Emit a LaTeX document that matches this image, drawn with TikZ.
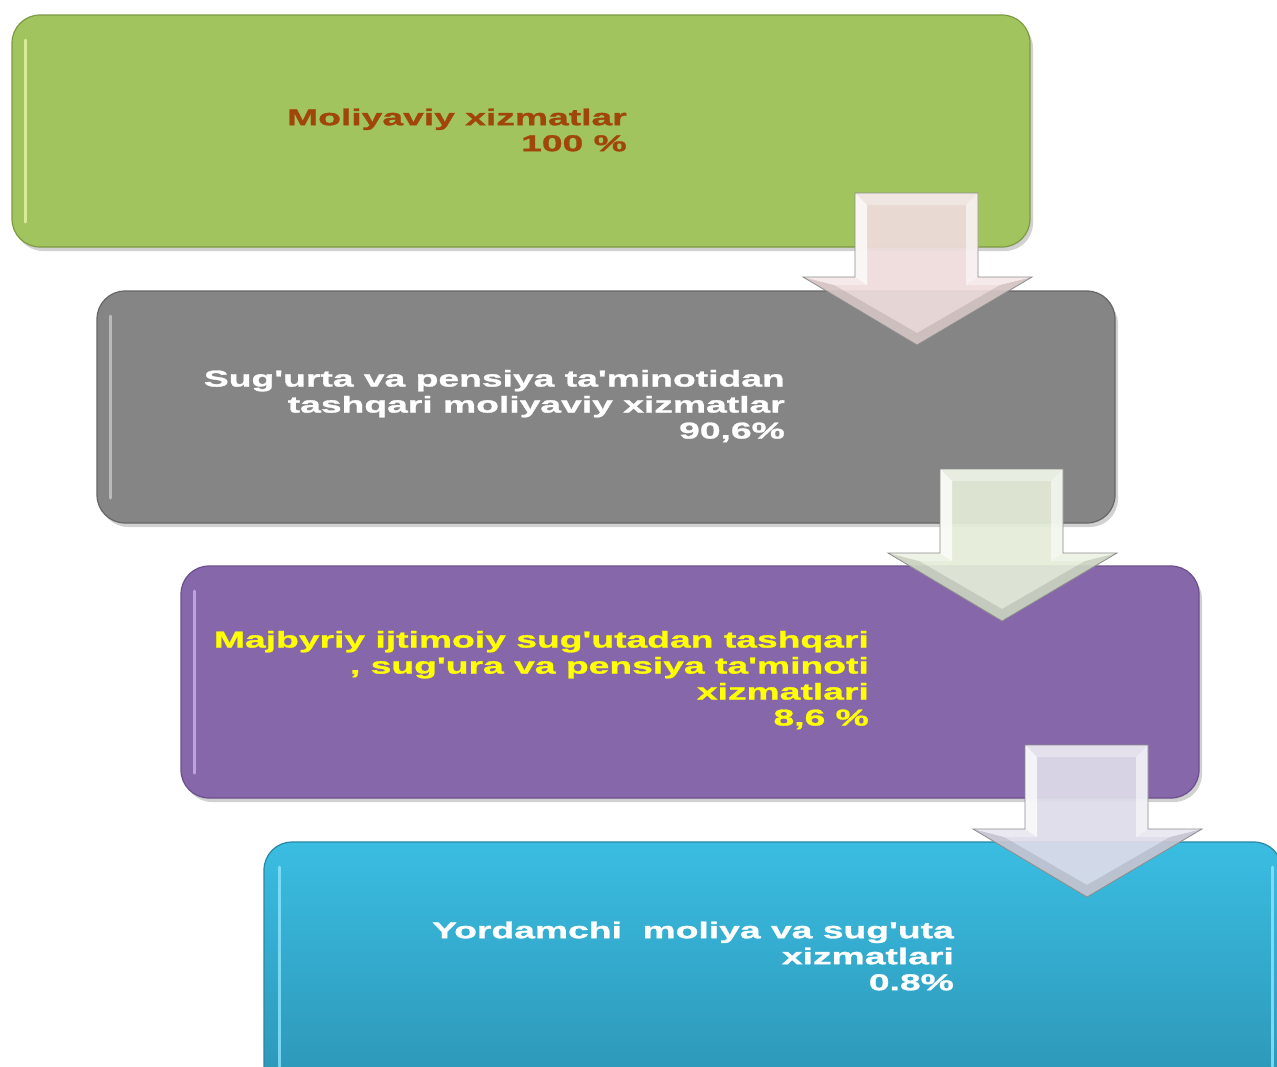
\documentclass[tikz,border=0pt]{standalone}
\usepackage{fontspec}
\newfontfamily\wfont[FakeStretch=1.62,FakeBold=1.2,Ligatures=TeXOff]{Liberation Sans Bold}
\definecolor{gfill}{HTML}{A2C45E}
\definecolor{gdark}{HTML}{7C9A42}
\definecolor{glite}{HTML}{E6F7A6}
\definecolor{kfill}{HTML}{858585}
\definecolor{kdark}{HTML}{666666}
\definecolor{klite}{HTML}{C8C8C8}
\definecolor{pfill}{HTML}{8668AA}
\definecolor{pdark}{HTML}{6A4F8C}
\definecolor{plite}{HTML}{C9B4E8}
\definecolor{btop}{HTML}{3ABDE2}
\definecolor{bbot}{HTML}{2C94B4}
\definecolor{bdark}{HTML}{2A86A4}
\definecolor{blite}{HTML}{8EE6FF}
\definecolor{brownt}{HTML}{A0460A}
\definecolor{ytext}{HTML}{FFFF00}
\definecolor{apink}{HTML}{EFDCDC}
\definecolor{agreen}{HTML}{E4EDD8}
\definecolor{alav}{HTML}{DEDCEA}
\newcommand\bevarrow[3]{%
  \begin{scope}[shift={(#1,#2)}]
    \fill[#3,opacity=0.92] (855,193) -- (978,193) -- (978,277) -- (1032,277) -- (917,345) -- (803,277) -- (855,277) -- cycle;
    \fill[white,opacity=0.75] (855,193) -- (867,205) -- (867,285) -- (855,277) -- cycle;
    \fill[white,opacity=0.55] (978,193) -- (966,205) -- (966,285) -- (978,277) -- cycle;
    \fill[white,opacity=0.35] (855,193) -- (978,193) -- (966,205) -- (867,205) -- cycle;
    \fill[black,opacity=0.10] (803,277) -- (917,345) -- (1032,277) -- (1000,285) -- (917,333) -- (834,285) -- cycle;
    \fill[white,opacity=0.35] (803,277) -- (855,277) -- (867,285) -- (834,285) -- cycle;
    \fill[white,opacity=0.35] (1032,277) -- (978,277) -- (966,285) -- (1000,285) -- cycle;
    \draw[black!45,line width=0.8pt] (855,193) -- (978,193) -- (978,277) -- (1032,277) -- (917,345) -- (803,277) -- (855,277) -- cycle;
  \end{scope}}
\tikzset{
  box/.style={rounded corners=28pt, line width=1.2pt, minimum width=1018pt, minimum height=232pt, inner sep=0pt},
  shadowbox/.style={fill=black, opacity=0.18, rounded corners=28pt},
  hilite/.style={line width=3pt, line cap=round, opacity=0.8},
  txt/.style={font=\wfont\fontsize{23}{26}\selectfont, align=right, anchor=east, inner sep=0pt}
}
\begin{document}
\begin{tikzpicture}[x=1pt,y=-1pt]
\useasboundingbox (0,0) rectangle (1277,1066);
\clip (0,0) rectangle (1277,1066);
\fill[white] (0,0) rectangle (1277,1066);
% box 1
\fill[shadowbox] (15,20) rectangle (1033,251);
\node[box, fill=gfill, draw=gdark] (box1) at (521,131) {};
\draw[glite, hilite] (25,40) -- (25,222);
% box 2
\fill[shadowbox] (100,296) rectangle (1118,527);
\node[box, fill=kfill, draw=kdark] (box2) at (606,407) {};
\draw[klite, hilite] (110,316) -- (110,498);
% box 3
\fill[shadowbox] (184,571) rectangle (1202,802);
\node[box, fill=pfill, draw=pdark] (box3) at (690,682) {};
\draw[plite, hilite] (194,591) -- (194,773);
% box 4
\node[box, minimum height=260pt, top color=btop, bottom color=bbot, draw=bdark] (box4) at (773,972) {};
\draw[blite, hilite] (279,867) -- (279,1066);
\draw[blite, hilite] (1272,867) -- (1272,1066);
% texts
\node[txt, text=brownt] (t1) at (627,130) {Moliyaviy xizmatlar\\100 \%};
\node[txt, text=white] (t2) at (785,406) {Sug'urta va pensiya ta'minotidan\\tashqari moliyaviy xizmatlar\\90,6\%};
\node[txt, text=ytext] (t3) at (869,680) {Majbyriy ijtimoiy sug'utadan tashqari\\, sug'ura va pensiya ta'minoti\\xizmatlari\\8,6 \%};
\node[txt, text=white] (t4) at (954,956) {Yordamchi\ \ moliya va sug'uta\\xizmatlari\\0.8\%};
% arrows
\bevarrow{0}{0}{apink}
\bevarrow{85}{276}{agreen}
\bevarrow{170}{552}{alav}
\end{tikzpicture}
\end{document}
